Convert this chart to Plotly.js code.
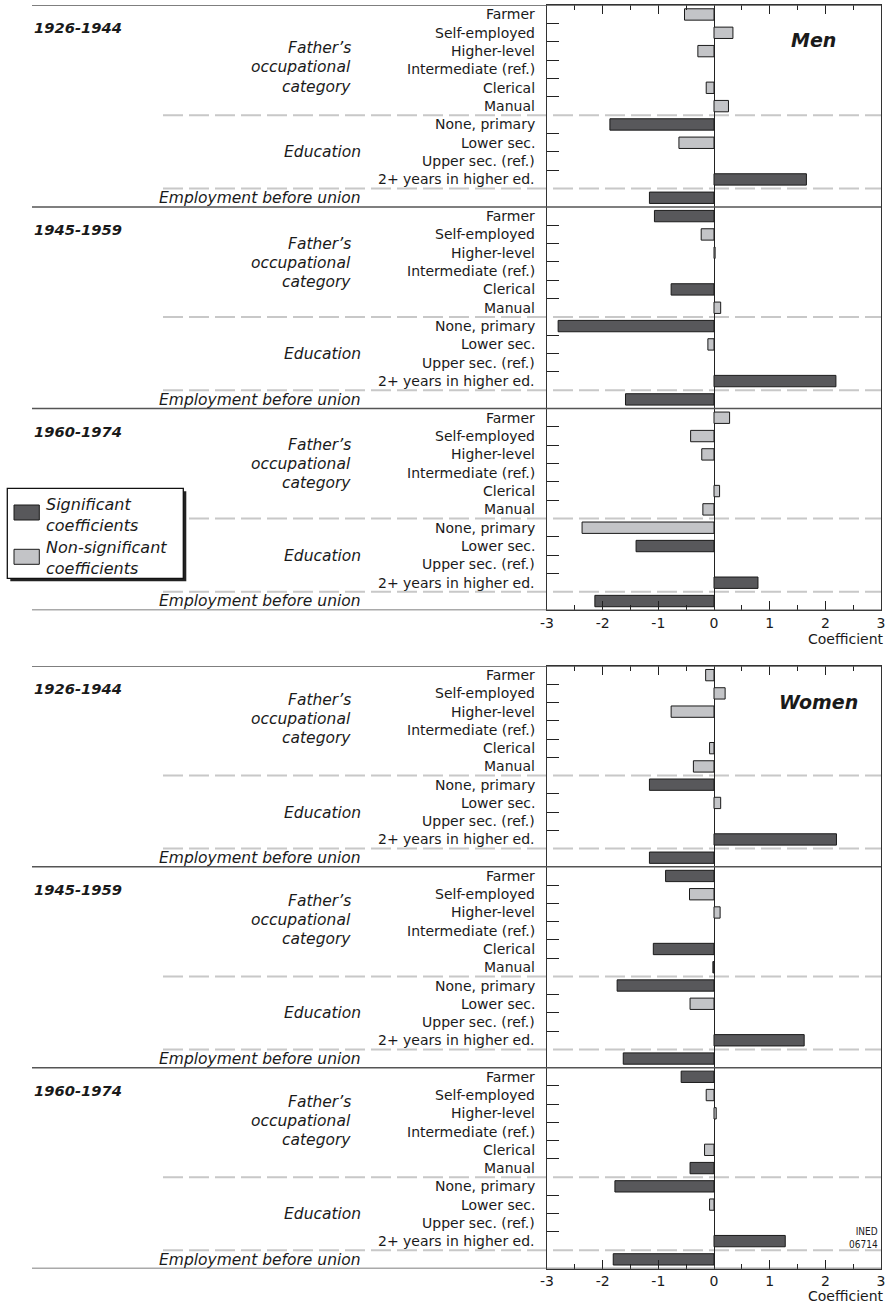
<!DOCTYPE html>
<html><head><meta charset="utf-8">
<script src="https://cdn.plot.ly/plotly-3.0.1.min.js"></script>
<style>html,body{margin:0;padding:0;background:#fff}#chart{width:893px;height:1305px}</style>
</head><body><div id="chart"></div>
<script>
// ---------------- DATA ----------------
const categories = ["Farmer", "Self-employed", "Higher-level", "Intermediate (ref.)", "Clerical", "Manual",
  "None, primary", "Lower sec.", "Upper sec. (ref.)", "2+ years in higher ed.", ""];
const cohorts = ["1926-1944", "1945-1959", "1960-1974"];
const groupFather = ["Father\u2019s", "occupational", "category"];
const groupEducation = "Education";
const groupEmployment = "Employment before union";
const tickValues = [-3, -2, -1, 0, 1, 2, 3];
const tickLabels = ["-3", "-2", "-1", "0", "1", "2", "3"];
const minorTickValues = [-2.5, -1.5, -0.5, 0.5, 1.5, 2.5];

// coefficients (null = reference category)
const men1926 = [-0.53, 0.34, -0.29, null, -0.14, 0.26, -1.87, -0.63, null, 1.66, -1.16];
const men1945 = [-1.07, -0.23, 0.02, null, -0.77, 0.12, -2.80, -0.11, null, 2.19, -1.59];
const men1960 = [0.28, -0.42, -0.22, null, 0.10, -0.20, -2.37, -1.40, null, 0.79, -2.14];
const women1926 = [-0.15, 0.20, -0.77, null, -0.08, -0.37, -1.16, 0.12, null, 2.20, -1.16];
const women1945 = [-0.87, -0.44, 0.11, null, -1.09, -0.02, -1.74, -0.43, null, 1.62, -1.63];
const women1960 = [-0.59, -0.14, 0.04, null, -0.17, -0.43, -1.78, -0.08, null, 1.28, -1.81];
// significance (1 = significant)
const men1926Sig = [0, 0, 0, 0, 0, 0, 1, 0, 0, 1, 1];
const men1945Sig = [1, 0, 0, 0, 1, 0, 1, 0, 0, 1, 1];
const men1960Sig = [0, 0, 0, 0, 0, 0, 0, 1, 0, 1, 1];
const women1926Sig = [0, 0, 0, 0, 0, 0, 1, 0, 0, 1, 1];
const women1945Sig = [1, 0, 0, 0, 1, 1, 1, 0, 0, 1, 1];
const women1960Sig = [1, 0, 0, 0, 0, 1, 1, 0, 0, 1, 1];

const legendLabels = [["Significant", "coefficients"], ["Non-significant", "coefficients"]];
const sourceCode = ["INED", "06714"];

// ---------------- LAYOUT HELPERS ----------------
const W = 893, H = 1305;
const px = x => x / W, py = y => 1 - y / H;
const FONT = "DejaVu Sans, Verdana, sans-serif";
const NARROW = "Liberation Sans Narrow, DejaVu Sans Condensed, sans-serif";
const INK = "#1a1a1a";
const DARK = "#58585b", LIGHT = "#c3c4c7";

const panels = [
  { sex: "Men", xa: "x", ya: "y", xk: "xaxis", yk: "yaxis", values: [men1926, men1945, men1960],
    sig: [men1926Sig, men1945Sig, men1960Sig], top: 5.3, bottom: 610.2,
    fatherOff: [2.89, 2.56, 2.52], sexPos: [813.7, 40], coefY: 638.6 },
  { sex: "Women", xa: "x2", ya: "y2", xk: "xaxis2", yk: "yaxis2", values: [women1926, women1945, women1960],
    sig: [women1926Sig, women1945Sig, women1960Sig], top: 666, bottom: 1268.5,
    fatherOff: [2.41, 2.43, 2.42], sexPos: [818, 702], coefY: 1296.3 }
];

const nCat = categories.length;
const nRows = nCat * cohorts.length;
const traces = [], shapes = [], annotations = [];
const layout = {
  width: W, height: H, margin: { l: 0, r: 0, t: 0, b: 0 },
  paper_bgcolor: "#fff", plot_bgcolor: "rgba(0,0,0,0)",
  showlegend: false, font: { family: FONT, color: INK },
  bargap: 0
};

panels.forEach(p => {
  const sx = [], sy = [], nx = [], ny = [];
  p.values.forEach((arr, c) => {
    arr.forEach((v, k) => {
      if (v === null) return;
      const row = c * nCat + k;
      if (p.sig[c][k]) { sx.push(v); sy.push(row); } else { nx.push(v); ny.push(row); }
    });
  });
  traces.push({ type: "bar", orientation: "h", x: sx, y: sy, xaxis: p.xa, yaxis: p.ya, width: 0.62,
    name: "Significant coefficients", marker: { color: DARK, line: { color: INK, width: 1 } }, hoverinfo: "x" });
  traces.push({ type: "bar", orientation: "h", x: nx, y: ny, xaxis: p.xa, yaxis: p.ya, width: 0.62,
    name: "Non-significant coefficients", marker: { color: LIGHT, line: { color: INK, width: 1 } }, hoverinfo: "x" });

  // boundaries
  const boundaryTicks = [];
  for (let c = 0; c < cohorts.length; c++) {
    [0.5, 1.5, 2.5, 3.5, 4.5, 6.5, 7.5, 8.5].forEach(b => boundaryTicks.push(c * nCat + b));
  }

  layout[p.xk] = {
    domain: [px(547), px(881)], range: [-3, 3], anchor: p.ya, fixedrange: true,
    tickmode: "array", tickvals: tickValues, ticktext: tickLabels,
    ticks: "inside", ticklen: 9, tickcolor: "#222", tickwidth: 1,
    minor: { tickmode: "array", tickvals: minorTickValues, ticks: "inside", ticklen: 5, tickcolor: "#222", tickwidth: 1, showgrid: false },
    showline: true, linecolor: "#333", linewidth: 1, mirror: "ticks",
    zeroline: true, zerolinecolor: "#222", zerolinewidth: 1, showgrid: false,
    tickfont: { family: FONT, size: 14, color: INK }
  };
  layout[p.yk] = {
    domain: [py(p.bottom), py(p.top)], range: [nRows - 0.5, -0.5], anchor: p.xa, fixedrange: true,
    showline: true, linecolor: "#333", linewidth: 1, mirror: true,
    ticks: "", showticklabels: false, showgrid: false, zeroline: false,
    minor: { tickmode: "array", tickvals: boundaryTicks, ticks: "inside", ticklen: 12, tickcolor: "#222", tickwidth: 1, showgrid: false }
  };

  // solid cohort separators
  for (let c = 0; c <= cohorts.length; c++) {
    const b = c * nCat - 0.5;
    shapes.push({ type: "line", xref: "paper", yref: p.ya, x0: px(32), x1: px(881), y0: b, y1: b,
      line: { color: "#555", width: 1.5 }, layer: "above" });
  }
  // dashed group separators
  for (let c = 0; c < cohorts.length; c++) {
    [5.5, 9.5].forEach(o => {
      const b = c * nCat + o;
      shapes.push({ type: "line", xref: "paper", yref: p.ya, x0: px(163), x1: px(881), y0: b, y1: b,
        line: { color: "#c8c8c8", width: 2, dash: "20px,6px" }, layer: "below" });
    });
  }

  // labels
  for (let c = 0; c < cohorts.length; c++) {
    const base = c * nCat;
    categories.forEach((cat, k) => {
      if (!cat) return;
      annotations.push({ xref: "paper", yref: p.ya, x: px(537), y: base + k, xanchor: "right", yanchor: "middle",
        text: cat, showarrow: false, font: { family: FONT, size: 14, color: INK } });
    });
    annotations.push({ xref: "paper", yref: p.ya, x: px(32), y: base + 0.73, xanchor: "left", yanchor: "middle",
      text: "<b><i>" + cohorts[c] + "</i></b>", showarrow: false, font: { family: FONT, size: 14.7, color: INK } });
    groupFather.forEach((t, i) => {
      annotations.push({ xref: "paper", yref: p.ya, x: px(353), y: base + p.fatherOff[c] + (i - 1) * 1.04,
        xanchor: "right", yanchor: "middle", text: "<i>" + t + "</i>", showarrow: false,
        font: { family: FONT, size: 15.5, color: INK } });
    });
    annotations.push({ xref: "paper", yref: p.ya, x: px(363), y: base + 7.53, xanchor: "right", yanchor: "middle",
      text: "<i>" + groupEducation + "</i>", showarrow: false, font: { family: FONT, size: 15.5, color: INK } });
    annotations.push({ xref: "paper", yref: p.ya, x: px(363), y: base + 10.02, xanchor: "right", yanchor: "middle",
      text: "<i>" + groupEmployment + "</i>", showarrow: false, font: { family: FONT, size: 15.5, color: INK } });
  }
  annotations.push({ xref: "paper", yref: "paper", x: px(p.sexPos[0]), y: py(p.sexPos[1]), xanchor: "center", yanchor: "middle",
    text: "<b><i>" + p.sex + "</i></b>", showarrow: false, font: { family: FONT, size: 19, color: INK } });
  annotations.push({ xref: "paper", yref: "paper", x: px(884), y: py(p.coefY), xanchor: "right", yanchor: "middle",
    borderpad: 0, borderwidth: 0,
    text: "Coefficient", showarrow: false, font: { family: FONT, size: 14, color: INK } });
});

// INED code (one text block, two lines)
annotations.push({ xref: "paper", yref: "paper", x: px(880), y: py(1237.5), xanchor: "right", yanchor: "middle",
  text: sourceCode.join("<br>"), align: "right", showarrow: false, font: { family: NARROW, size: 10, color: INK } });

// legend box (drawn)
shapes.push({ type: "rect", xref: "paper", yref: "paper", x0: px(10.3), x1: px(186.3), y0: py(491.3), y1: py(581.3),
  fillcolor: "#222", line: { width: 0 }, layer: "above" });
shapes.push({ type: "rect", xref: "paper", yref: "paper", x0: px(7.3), x1: px(183.3), y0: py(488.3), y1: py(578.3),
  fillcolor: "#fff", line: { color: "#111", width: 1.3 }, layer: "above" });
[[DARK, 505, 520], [LIGHT, 549.3, 564.3]].forEach(([col, y0, y1]) => {
  shapes.push({ type: "rect", xref: "paper", yref: "paper", x0: px(14), x1: px(39.3), y0: py(y0), y1: py(y1),
    fillcolor: col, line: { color: INK, width: 1 }, layer: "above" });
});
const legendLineY = [[506, 524.5], [548, 567]];
legendLabels.forEach((lines, i) => {
  annotations.push({ xref: "paper", yref: "paper", x: px(43.5), y: py((legendLineY[i][0] + legendLineY[i][1]) / 2),
    xanchor: "left", yanchor: "middle", align: "left",
    text: "<i>" + lines.join("<br>") + "</i>", showarrow: false, font: { family: FONT, size: 16, color: INK } });
});

layout.shapes = shapes;
layout.annotations = annotations;

Plotly.newPlot("chart", traces, layout, { displayModeBar: false, staticPlot: true });
</script></body></html>
